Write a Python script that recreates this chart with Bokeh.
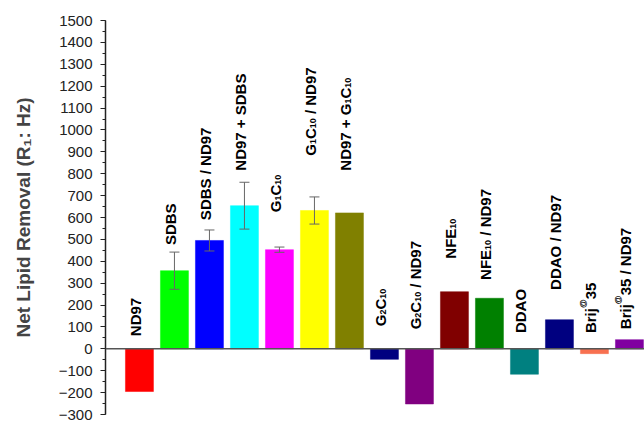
from bokeh.plotting import figure
from bokeh.models import ColumnDataSource, Range1d, Span, Whisker, FixedTicker, TeeHead
from bokeh.embed import file_html
from bokeh.resources import INLINE
from bokeh.core.properties import value

# ---------------- data ----------------
categories = ["ND97", "SDBS", "SDBS / ND97", "ND97 + SDBS", "G1C10", "G1C10 / ND97",
              "ND97 + G1C10", "G2C10", "G2C10 / ND97", "NFE10", "NFE10 / ND97",
              "DDAO", "DDAO / ND97", "Brij@35", "Brij@35 / ND97"]
values = [-195, 357, 495, 654, 453, 632, 621, -48, -252, 261, 231, -116, 133, -22, 42]
errors = [0, 85, 48, 107, 12, 62, 0, 0, 0, 0, 0, 0, 0, 0, 0]
colors = ["#FF0000", "#00FF00", "#0000FF", "#00FFFF", "#FF00FF", "#FFFF00", "#808000",
          "#000080", "#800080", "#800000", "#008000", "#008080", "#000080", "#F87050", "#8000A0"]
# label text split into (text, kind) pieces: n = normal, b = subscript, p = superscript
label_parts = [
    [("ND97", "n")],
    [("SDBS", "n")],
    [("SDBS / ND97", "n")],
    [("ND97 + SDBS", "n")],
    [("G", "n"), ("1", "b"), ("C", "n"), ("10", "b")],
    [("G", "n"), ("1", "b"), ("C", "n"), ("10", "b"), (" / ND97", "n")],
    [("ND97 + G", "n"), ("1", "b"), ("C", "n"), ("10", "b")],
    [("G", "n"), ("2", "b"), ("C", "n"), ("10", "b")],
    [("G", "n"), ("2", "b"), ("C", "n"), ("10", "b"), (" / ND97", "n")],
    [("NFE", "n"), ("10", "b")],
    [("NFE", "n"), ("10", "b"), (" / ND97", "n")],
    [("DDAO", "n")],
    [("DDAO / ND97", "n")],
    [("Brij", "n"), ("@", "p"), ("35", "n")],
    [("Brij", "n"), ("@", "p"), ("35 / ND97", "n")],
]
y_ticks = list(range(-300, 1501, 100))

# ---------------- layout ----------------
label_y = [58, 474, 588, 814, 624, 882, 814, 103, 89, 412, 315, 72, 269, 72, 90]
FS_N, FS_S = 15.0, 9.0
W = {'G': 778, 'C': 722, 'N': 722, 'D': 722, 'S': 667, 'B': 722, 'F': 611, 'E': 667,
     'A': 722, 'O': 778, 'r': 389, 'i': 278, 'j': 278, '@': 975, ' ': 278, '/': 278, '+': 584}


def text_w(s, fs):
    return sum(W.get(c, 556) for c in s) / 1000.0 * fs


xs = list(range(1, len(values) + 1))

p = figure(width=644, height=423, output_backend="svg", toolbar_location=None,
           x_range=Range1d(0.03, 15.43), y_range=Range1d(-300, 1500),
           x_axis_location=None, min_border_left=105, min_border_right=0,
           min_border_top=20, min_border_bottom=9)
p.outline_line_color = None
p.grid.visible = False
p.background_fill_color = "white"

src = ColumnDataSource(dict(x=xs, top=values, color=colors))
p.vbar(x="x", top="top", bottom=0, width=0.8, fill_color="color", line_color="color",
       line_alpha=0.5, source=src)

p.add_layout(Span(location=0, dimension="width", line_color="#555555", line_width=1.5))

ex = [x for x, e in zip(xs, errors) if e > 0]
eu = [v + e for v, e in zip(values, errors) if e > 0]
el = [v - e for v, e in zip(values, errors) if e > 0]
esrc = ColumnDataSource(dict(x=ex, upper=eu, lower=el))
w = Whisker(base="x", upper="upper", lower="lower", source=esrc,
            line_color="#666666", line_width=1, level="overlay",
            upper_head=TeeHead(size=10, line_color="#666666", line_width=1),
            lower_head=TeeHead(size=10, line_color="#666666", line_width=1))
p.add_layout(w)

# labels composed of pieces
norm = dict(x=[], y=[], text=[], xo=[], yo=[])
small = dict(x=[], y=[], text=[], xo=[], yo=[])
for i, parts in enumerate(label_parts):
    cum = 0.0
    for t, kind in parts:
        if kind == "n":
            d, fs, sh = norm, FS_N, -3.5
        elif kind == "b":
            d, fs, sh = small, FS_S, -1.0
        else:
            d, fs, sh = small, FS_S, -11.0
        stripped = t.lstrip(" ")
        cum += text_w(t[:len(t) - len(stripped)], fs)
        d["x"].append(xs[i])
        d["y"].append(label_y[i])
        d["text"].append(stripped)
        d["xo"].append(sh)
        d["yo"].append(-cum)
        cum += text_w(stripped, fs)

for d, fs in ((norm, FS_N), (small, FS_S)):
    p.text(x="x", y="y", text="text", x_offset="xo", y_offset="yo", angle=1.5707963,
           text_align="left", text_baseline="alphabetic",
           text_font=value("Liberation Sans"), text_font_style="bold",
           text_font_size=f"{fs}px", text_color="black", source=ColumnDataSource(d))

ax = p.yaxis[0]
ax.ticker = FixedTicker(ticks=y_ticks, minor_ticks=list(range(-300, 1501, 50)))
ax.axis_label = "Net Lipid Removal (R\u2081: Hz)"
ax.axis_label_text_font = "Liberation Sans"
ax.axis_label_text_font_style = "bold"
ax.axis_label_text_font_size = "19px"
ax.axis_label_standoff = 22
ax.major_label_text_font = "Liberation Sans"
ax.major_label_text_font_size = "15px"
ax.major_label_text_color = "#222222"
ax.major_label_standoff = 8
ax.major_tick_in = 0
ax.major_tick_out = 5
ax.minor_tick_in = 0
ax.minor_tick_out = 3
ax.axis_line_width = 1.5
ax.axis_line_color = "#222222"
ax.major_tick_line_width = 1.2
ax.major_tick_line_color = "#222222"
ax.minor_tick_line_color = "#222222"

open("out.html", "w").write(file_html(p, INLINE))
